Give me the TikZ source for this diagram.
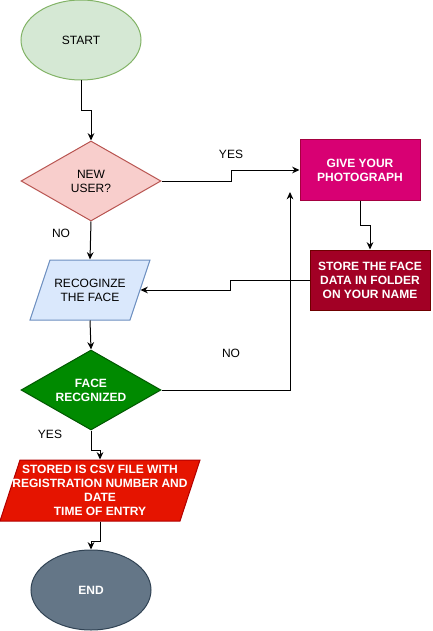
\documentclass[tikz,border=0pt]{standalone}
\usepackage{fontspec}
\setmainfont{Liberation Sans}
\usetikzlibrary{shapes.geometric,arrows.meta}

\begin{document}
\begin{tikzpicture}[x=0.75pt,y=-0.75pt,
  >={Stealth[length=5.5pt,width=5pt]},
  line width=0.75pt,
  every node/.style={font=\fontsize{9}{10.5}\selectfont, align=center, inner sep=0pt},
  whitebold/.style={text=white, font=\fontsize{9}{10.5}\selectfont\bfseries},
  startnode/.style={ellipse, minimum width=90pt, minimum height=60pt},
  decision/.style={diamond, aspect=1.75, minimum width=105pt, minimum height=60pt},
  process/.style={rectangle, minimum width=90pt, minimum height=45pt, whitebold},
  iobox/.style={rectangle, minimum height=45pt}
]
\definecolor{startfill}{HTML}{D5E8D4}\definecolor{startline}{HTML}{82B366}
\definecolor{userfill}{HTML}{F8CECC}\definecolor{userline}{HTML}{B85450}
\definecolor{givefill}{HTML}{D80073}\definecolor{giveline}{HTML}{A50040}
\definecolor{storefill}{HTML}{A20025}\definecolor{storeline}{HTML}{6F0000}
\definecolor{recogfill}{HTML}{DAE8FC}\definecolor{recogline}{HTML}{6C8EBF}
\definecolor{facefill}{HTML}{008A00}\definecolor{faceline}{HTML}{005700}
\definecolor{csvfill}{HTML}{E51400}\definecolor{csvline}{HTML}{B20000}
\definecolor{endfill}{HTML}{647687}\definecolor{endline}{HTML}{314354}
\useasboundingbox (0,0) rectangle (432,631);

% parallelograms
\filldraw [draw=recogline, fill=recogfill] (50,260) -- (150,260) -- (130,320) -- (30,320) -- cycle;
\filldraw [draw=csvline, fill=csvfill] (20,460) -- (200,460) -- (180,521) -- (0,521) -- cycle;

\node (start) at (81,40) [startnode, draw=startline, fill=startfill] {START};
\node (newuser) at (91,181) [decision, draw=userline, fill=userfill] {NEW\\USER?};
\node (give) at (360,170) [process, draw=giveline, fill=givefill] {GIVE YOUR\\PHOTOGRAPH};
\node (store) at (370,280) [process, draw=storeline, fill=storefill] {STORE THE FACE\\DATA IN FOLDER\\ON YOUR NAME};
\node (recog) at (90,290) [iobox, minimum width=75pt] {RECOGINZE\\THE FACE};
\node (face) at (91,390) [decision, draw=faceline, fill=facefill, whitebold] {FACE\\RECGNIZED};
\node (csv) at (100,490.5) [iobox, minimum width=135pt, minimum height=45.75pt, whitebold] {STORED IS CSV FILE WITH\\REGISTRATION NUMBER AND\\DATE\\TIME OF ENTRY};
\node (end) at (91,590) [startnode, draw=endline, fill=endfill, whitebold] {END};
\coordinate (back) at (290,192);

% connectors
\draw [->] (start.south) -- ++(0,30) -| (newuser.north);
\draw [->] (newuser.east) -- ++(70,0) |- (give.west);
\draw [->] (newuser.south) -- (recog.north);
\draw [->] (give.south) -- ++(0,25) -| (store.north);
\draw [->] (store.west) -- ++(-79,0) |- (recog.east);
\draw [->] (recog.south) -- (face.north);
\draw [->] (face.east) -| (back);
\draw [->] (face.south) -- ++(0,20) -| (csv.north);
\draw [->] (csv.south) -- ++(0,19.5) -| (end.north);

% labels
\node (yes1) at (231,154) {YES};
\node (no1) at (61,233) {NO};
\node (no2) at (231,353) {NO};
\node (yes2) at (50,434) {YES};
\end{tikzpicture}
\end{document}
